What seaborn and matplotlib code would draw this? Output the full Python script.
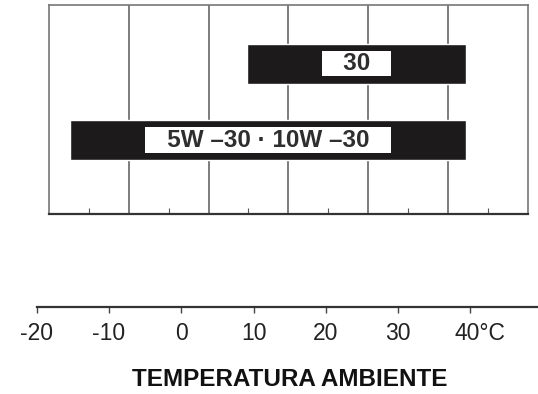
import numpy as np
import pandas as pd
import seaborn as sns
import matplotlib.pyplot as plt
from matplotlib.transforms import ScaledTranslation


# viscosity grades and the ambient temperature range (°C) each one covers
grades = ['30', '5W \u201330 \u00b7 10W \u201330']
temp_low = [9.1, -15.4]
temp_high = [39.4, 39.4]

tick_values = [-20, -10, 0, 10, 20, 30, 40]
tick_labels = ['-20', '-10', '0', '10', '20', '30', '40°C']
axis_title = 'TEMPERATURA AMBIENTE'

df = pd.DataFrame({'grade': grades, 'low': temp_low, 'high': temp_high})
df['span'] = df['high'] - df['low']
df['mid'] = (df['high'] + df['low']) / 2

sns.set_theme(style='white')
plt.rcParams['font.family'] = ['Liberation Sans', 'DejaVu Sans']

fig = plt.figure(figsize=(5.38, 3.94), dpi=100)

# top panel: boxed chart with the grade bars
ax = fig.add_axes([49 / 538, 1 - 213.5 / 394, (527.7 - 49) / 538, (213.5 - 5) / 394])
sns.barplot(data=df, x='span', y='grade', left=df['low'].tolist(), color='#1c1a1a',
            width=0.52, orient='h', saturation=1, ax=ax, zorder=3)
ax.set_xlim(-18.31, 47.94)
ax.set_ylim(1.963, -0.769)
x0, x1 = ax.get_xlim()
ax.set_xticks(np.linspace(x0, x1, 7)[1:-1])
ax.set_xticks(np.linspace(x0, x1, 13)[1::2], minor=True)
ax.tick_params(axis='x', which='major', length=0, labelbottom=False)
ax.tick_params(axis='x', which='minor', bottom=True, direction='in', length=4.5,
               width=0.8, color='#555555')
ax.set_yticks([])
ax.grid(axis='x', which='major', color='#666666', linewidth=1.2, zorder=1)
ax.set_xlabel('')
ax.set_ylabel('')
for side in ['left', 'top', 'right']:
    ax.spines[side].set_color('#777777')
    ax.spines[side].set_linewidth(1.2)
ax.spines['bottom'].set_color('#333333')
ax.spines['bottom'].set_linewidth(1.6)

for i, row in df.iterrows():
    ax.text(row['mid'], i, '   ' + row['grade'] + '   ', ha='center', va='center',
            fontsize=17.5, fontweight='bold', color='#2e2e2e', zorder=4,
            bbox=dict(boxstyle='square,pad=0.05', facecolor='white', edgecolor='none'))

# bottom temperature scale
axb = fig.add_axes([36.8 / 538, 1 - 306.7 / 394, (538 - 36.8) / 538, 0.001])
axb.set_xlim(-20, 49.37)
axb.set_yticks([])
axb.set_xticks(tick_values)
axb.set_xticklabels(tick_labels)
for side in ['left', 'top', 'right']:
    axb.spines[side].set_visible(False)
axb.spines['bottom'].set_color('#333333')
axb.spines['bottom'].set_linewidth(1.6)
axb.tick_params(axis='x', direction='out', length=4, width=1, color='#444444',
                labelsize=16.5, labelcolor='#222222', pad=7, bottom=True)
last = axb.get_xticklabels()[-1]
last.set_transform(last.get_transform() + ScaledTranslation(0.1, 0, fig.dpi_scale_trans))
axb.set_xlabel(axis_title, fontsize=17.5, fontweight='bold', color='#111111')
axb.xaxis.set_label_coords(290 / 538, 1 - 379 / 394, transform=fig.transFigure)
axb.xaxis.label.set_va('center')

fig.savefig('out.png', dpi=100)
